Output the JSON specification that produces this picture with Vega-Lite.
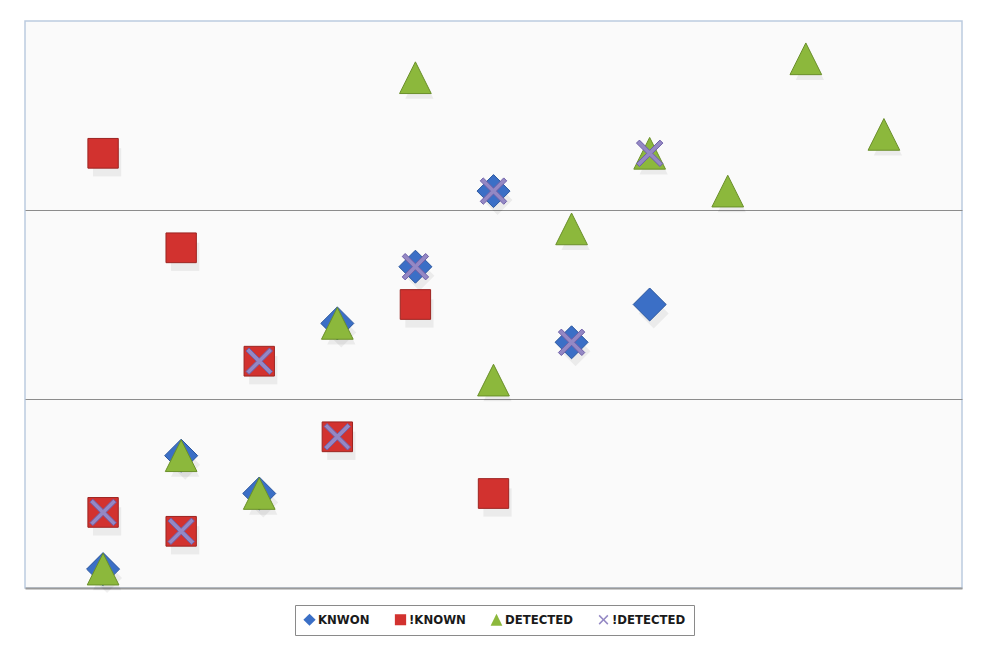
{
  "$schema": "https://vega.github.io/schema/vega-lite/v6.json",
  "width": 937,
  "height": 567,
  "autosize": {"type": "none"},
  "padding": {"left": 25, "top": 21, "right": 22, "bottom": 58},
  "background": "#ffffff",
  "data": {
    "values": [
      {"series": "KNWON", "px": 1, "py": 0.10},
      {"series": "KNWON", "px": 2, "py": 0.70},
      {"series": "KNWON", "px": 3, "py": 0.50},
      {"series": "KNWON", "px": 4, "py": 1.40},
      {"series": "KNWON", "px": 5, "py": 1.70},
      {"series": "KNWON", "px": 6, "py": 2.10},
      {"series": "KNWON", "px": 7, "py": 1.30},
      {"series": "KNWON", "px": 8, "py": 1.50},
      {"series": "!KNOWN", "px": 1, "py": 2.30},
      {"series": "!KNOWN", "px": 2, "py": 1.80},
      {"series": "!KNOWN", "px": 3, "py": 1.20},
      {"series": "!KNOWN", "px": 4, "py": 0.80},
      {"series": "!KNOWN", "px": 5, "py": 1.50},
      {"series": "!KNOWN", "px": 6, "py": 0.50},
      {"series": "!KNOWN", "px": 1, "py": 0.40},
      {"series": "!KNOWN", "px": 2, "py": 0.30},
      {"series": "DETECTED", "px": 5, "py": 2.70},
      {"series": "DETECTED", "px": 10, "py": 2.80},
      {"series": "DETECTED", "px": 11, "py": 2.40},
      {"series": "DETECTED", "px": 8, "py": 2.30},
      {"series": "DETECTED", "px": 9, "py": 2.10},
      {"series": "DETECTED", "px": 7, "py": 1.90},
      {"series": "DETECTED", "px": 4, "py": 1.40},
      {"series": "DETECTED", "px": 6, "py": 1.10},
      {"series": "DETECTED", "px": 2, "py": 0.70},
      {"series": "DETECTED", "px": 3, "py": 0.50},
      {"series": "DETECTED", "px": 1, "py": 0.10},
      {"series": "!DETECTED", "px": 6, "py": 2.10},
      {"series": "!DETECTED", "px": 5, "py": 1.70},
      {"series": "!DETECTED", "px": 8, "py": 2.30},
      {"series": "!DETECTED", "px": 7, "py": 1.30},
      {"series": "!DETECTED", "px": 3, "py": 1.20},
      {"series": "!DETECTED", "px": 4, "py": 0.80},
      {"series": "!DETECTED", "px": 1, "py": 0.40},
      {"series": "!DETECTED", "px": 2, "py": 0.30}
    ]
  },
  "encoding": {
    "x": {
      "field": "px", "type": "quantitative",
      "scale": {"domain": [0, 12], "nice": false, "zero": false},
      "axis": {"title": null, "labels": false, "ticks": false, "grid": false,
               "domain": true, "domainColor": "#9a9a9a", "domainWidth": 2}
    },
    "y": {
      "field": "py", "type": "quantitative",
      "scale": {"domain": [0, 3], "nice": false},
      "axis": {"title": null, "labels": false, "ticks": false, "domain": false,
               "grid": true, "values": [1, 2], "gridColor": "#8c8c8c", "gridWidth": 1}
    }
  },
  "layer": [
    {
      "transform": [{"filter": "datum.series === 'KNWON'"}],
      "mark": {"type": "point", "shape": "diamond", "filled": true, "size": 900,
               "color": "#000000", "opacity": 0.06, "xOffset": 4, "yOffset": 9}
    },
    {
      "transform": [{"filter": "datum.series === '!KNOWN'"}],
      "mark": {"type": "point", "shape": "square", "filled": true, "size": 800,
               "color": "#000000", "opacity": 0.06, "xOffset": 4, "yOffset": 9}
    },
    {
      "transform": [{"filter": "datum.series === 'DETECTED'"}],
      "mark": {"type": "point", "shape": "M0,-1L1,1L-1,1Z", "filled": true, "size": 800,
               "color": "#000000", "opacity": 0.06, "xOffset": 4, "yOffset": 7}
    },
    {
      "mark": {"type": "point", "filled": true, "strokeWidth": 1, "size": 1090},
      "encoding": {
        "color": {
          "field": "series", "type": "nominal",
          "scale": {
            "domain": ["KNWON", "!KNOWN", "DETECTED", "!DETECTED"],
            "range": ["#3b6fc6", "#d2322f", "#8cb83c", "#9488c4"]
          },
          "legend": {
            "title": null,
            "orient": "none",
            "direction": "horizontal",
            "legendX": 270,
            "legendY": 584,
            "strokeColor": "#8a8a8a",
            "fillColor": "#ffffff",
            "padding": 8,
            "symbolSize": 150,
            "symbolStrokeWidth": 0,
            "labelFont": "DejaVu Sans Condensed",
            "labelFontWeight": "bold",
            "labelFontSize": 13,
            "labelColor": "#1a1a1a",
            "labelOffset": 2,
            "columnPadding": 24
          }
        },
        "shape": {
          "field": "series", "type": "nominal",
          "scale": {
            "domain": ["KNWON", "!KNOWN", "DETECTED", "!DETECTED"],
            "range": [
              "diamond",
              "M-0.92,-0.9L0.92,-0.9L0.92,0.9L-0.92,0.9Z",
              "M0,-0.96L0.96,0.96L-0.96,0.96Z",
              "M-0.8,-0.62L-0.62,-0.8L0,-0.18L0.62,-0.8L0.8,-0.62L0.18,0L0.8,0.62L0.62,0.8L0,0.18L-0.62,0.8L-0.8,0.62L-0.18,0Z"
            ]
          }
        },
        "stroke": {
          "field": "series", "type": "nominal",
          "scale": {
            "domain": ["KNWON", "!KNOWN", "DETECTED", "!DETECTED"],
            "range": ["#2a569e", "#9c2421", "#6a8f2a", "#6e5fa8"]
          },
          "legend": null
        },
        "opacity": {
          "field": "series", "type": "nominal",
          "scale": {
            "domain": ["KNWON", "!KNOWN", "DETECTED", "!DETECTED"],
            "range": [1, 1, 1, 0.45]
          },
          "legend": null
        }
      }
    }
  ],
  "config": {
    "view": {"fill": "#fafafa", "stroke": "#bccbe0", "strokeWidth": 1.5}
  }
}
